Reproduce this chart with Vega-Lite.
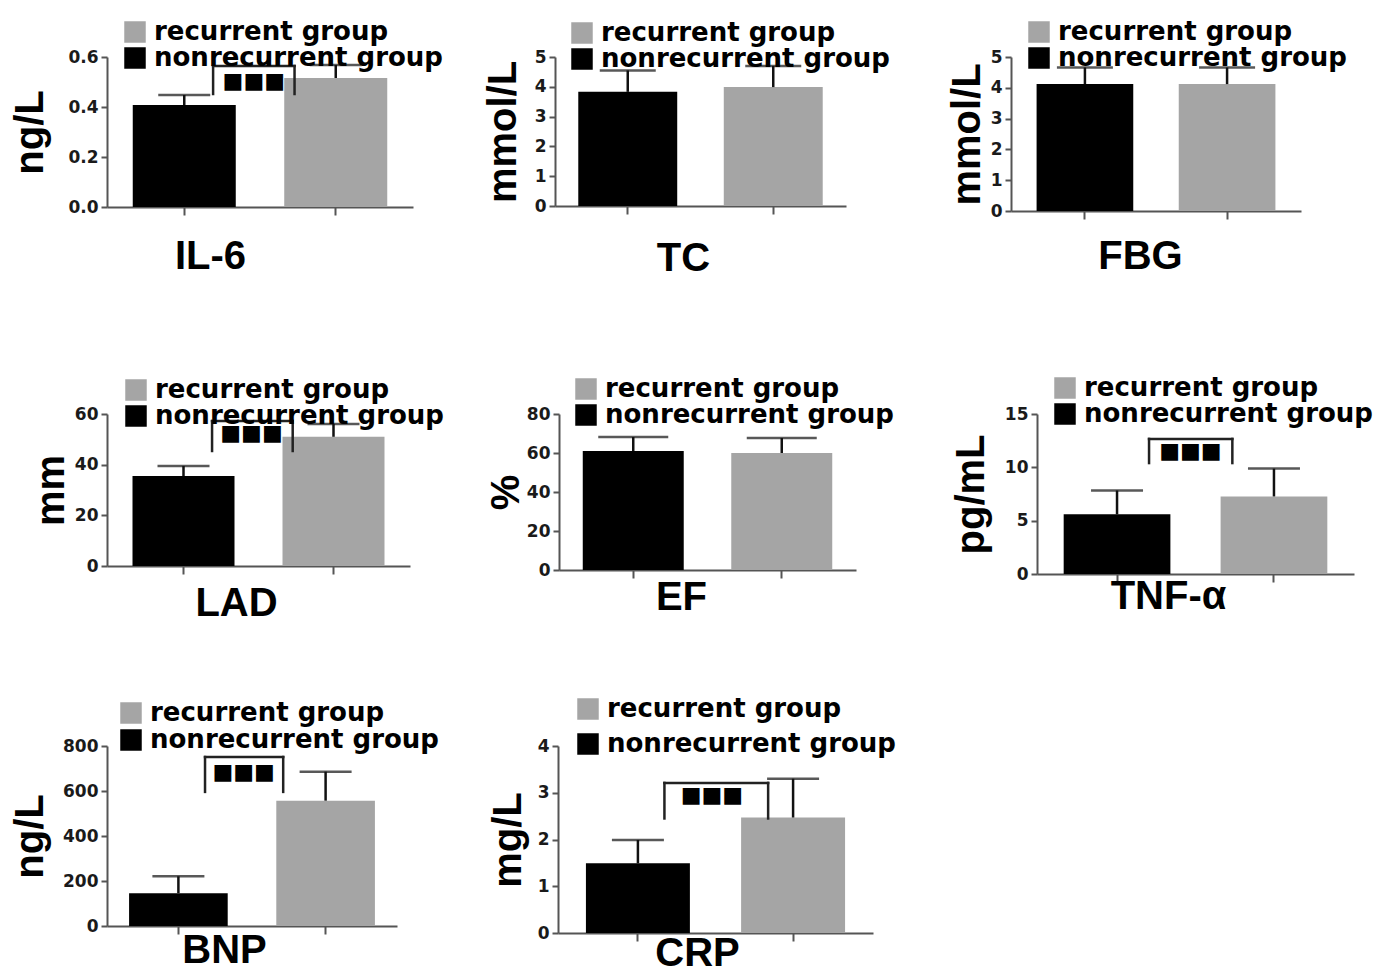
{
  "$schema": "https://vega.github.io/schema/vega-lite/v6.json",
  "padding": {"left": 10, "top": 19, "right": 5, "bottom": 2},
  "datasets": {
    "bars": [
      {"metric": "IL-6", "group": "nonrecurrent group", "mean": 0.408, "upper": 0.448},
      {"metric": "IL-6", "group": "recurrent group", "mean": 0.516, "upper": 0.568},
      {"metric": "TC", "group": "nonrecurrent group", "mean": 3.83, "upper": 4.55},
      {"metric": "TC", "group": "recurrent group", "mean": 3.99, "upper": 4.7},
      {"metric": "FBG", "group": "nonrecurrent group", "mean": 4.12, "upper": 4.66},
      {"metric": "FBG", "group": "recurrent group", "mean": 4.12, "upper": 4.66},
      {"metric": "LAD", "group": "nonrecurrent group", "mean": 35.5, "upper": 39.5},
      {"metric": "LAD", "group": "recurrent group", "mean": 51.0, "upper": 56.1},
      {"metric": "EF", "group": "nonrecurrent group", "mean": 61.0, "upper": 68.2},
      {"metric": "EF", "group": "recurrent group", "mean": 60.0, "upper": 67.7},
      {"metric": "TNF-α", "group": "nonrecurrent group", "mean": 5.59, "upper": 7.83},
      {"metric": "TNF-α", "group": "recurrent group", "mean": 7.27, "upper": 9.88},
      {"metric": "BNP", "group": "nonrecurrent group", "mean": 146, "upper": 221},
      {"metric": "BNP", "group": "recurrent group", "mean": 557, "upper": 686},
      {"metric": "CRP", "group": "nonrecurrent group", "mean": 1.49, "upper": 1.99},
      {"metric": "CRP", "group": "recurrent group", "mean": 2.47, "upper": 3.3}
    ],
    "sig": [
      {"metric": "IL-6", "g1": "nonrecurrent group", "g2": "recurrent group", "top": 0.564, "leg": 0.452, "star": 0.504, "label": "■■■"},
      {"metric": "LAD", "g1": "nonrecurrent group", "g2": "recurrent group", "top": 57.2, "leg": 45.4, "star": 52.5, "label": "■■■"},
      {"metric": "TNF-α", "g1": "nonrecurrent group", "g2": "recurrent group", "top": 12.66, "leg": 10.4, "star": 11.5, "label": "■■■"},
      {"metric": "BNP", "g1": "nonrecurrent group", "g2": "recurrent group", "top": 751, "leg": 596, "star": 684, "label": "■■■"},
      {"metric": "CRP", "g1": "nonrecurrent group", "g2": "recurrent group", "top": 3.21, "leg": 2.45, "star": 2.96, "label": "■■■"}
    ]
  },
  "config": {
    "view": {"stroke": null},
    "font": "Liberation Sans",
    "axis": {"grid": false, "domainColor": "#555555", "domainWidth": 2, "tickColor": "#555555", "tickWidth": 2, "labelFont": "DejaVu Sans", "labelFontWeight": "bold", "labelFontSize": 17, "labelColor": "#1a1a1a", "labelOverlap": false, "titleFont": "Liberation Sans", "titleFontWeight": "bold", "titleFontSize": 40, "titleColor": "#000000"},
    "axisY": {"tickSize": 6, "labelPadding": 3, "titleBaseline": "alphabetic", "labelOverlap": false},
    "axisX": {"tickSize": 8, "labels": false, "titleBaseline": "alphabetic", "titleAlign": "center"},
    "legend": {"labelFont": "DejaVu Sans", "labelFontWeight": "bold", "labelFontSize": 26, "labelColor": "#000000", "symbolType": "square", "symbolSize": 462, "symbolStrokeWidth": 0, "labelOffset": 6, "rowPadding": -2, "padding": 0, "labelLimit": 600}
  },
  "resolve": {"scale": {"color": "independent"}, "legend": {"color": "independent"}},
  "spacing": 97,
  "vconcat": [
    {
      "spacing": 40,
      "resolve": {"scale": {"color": "independent"}, "legend": {"color": "independent"}},
      "hconcat": [
        {
          "width": 306, "height": 150,
          "data": {"name": "bars"},
          "layer": [
            {"transform": [{"filter": "datum.metric === 'IL-6'"}], "mark": {"type": "bar"},
             "encoding": {
               "x": {"field": "group", "type": "nominal", "title": "IL-6", "scale": {"domain": ["nonrecurrent group", "recurrent group"], "paddingInner": 0.32, "paddingOuter": 0.17}, "axis": {"titleX": 103, "titleY": 61}},
               "y": {"field": "mean", "type": "quantitative", "title": "ng/L", "scale": {"domain": [0, 0.6], "nice": false}, "axis": {"values": [0, 0.2, 0.4, 0.6], "tickCount": 20, "format": ".1f", "titleX": -65, "labelOverlap": false}},
               "color": {"field": "group", "type": "nominal", "scale": {"domain": ["recurrent group", "nonrecurrent group"], "range": ["#a5a5a5", "#000000"]}, "legend": {"title": null, "orient": "none", "legendX": 15, "legendY": -38, "rowPadding": -3}}
             }},
            {"transform": [{"filter": "datum.metric === 'IL-6'"}], "mark": {"type": "rule", "color": "#111111", "strokeWidth": 2.5},
             "encoding": {"x": {"field": "group", "type": "nominal", "title": "IL-6"}, "y": {"field": "mean", "type": "quantitative", "title": "ng/L"}, "y2": {"field": "upper"}}},
            {"transform": [{"filter": "datum.metric === 'IL-6'"}], "mark": {"type": "tick", "color": "#111111", "size": 52, "thickness": 2.5},
             "encoding": {"x": {"field": "group", "type": "nominal", "title": "IL-6"}, "y": {"field": "upper", "type": "quantitative", "title": "ng/L"}}},
            {"data": {"name": "sig"}, "transform": [{"filter": "datum.metric === 'IL-6'"}], "mark": {"type": "rule", "color": "#222222", "strokeWidth": 2.5, "strokeCap": "square"},
             "encoding": {"x": {"field": "g1", "type": "nominal", "bandPosition": 0.78, "title": "IL-6"}, "x2": {"field": "g2", "bandPosition": 0.1}, "y": {"field": "top", "type": "quantitative", "title": "ng/L"}}},
            {"data": {"name": "sig"}, "transform": [{"filter": "datum.metric === 'IL-6'"}], "mark": {"type": "rule", "color": "#222222", "strokeWidth": 2.5, "strokeCap": "square"},
             "encoding": {"x": {"field": "g1", "type": "nominal", "bandPosition": 0.78, "title": "IL-6"}, "y": {"field": "top", "type": "quantitative", "title": "ng/L"}, "y2": {"field": "leg"}}},
            {"data": {"name": "sig"}, "transform": [{"filter": "datum.metric === 'IL-6'"}], "mark": {"type": "rule", "color": "#222222", "strokeWidth": 2.5, "strokeCap": "square"},
             "encoding": {"x": {"field": "g2", "type": "nominal", "bandPosition": 0.1, "title": "IL-6"}, "y": {"field": "top", "type": "quantitative", "title": "ng/L"}, "y2": {"field": "leg"}}},
            {"data": {"name": "sig"}, "transform": [{"filter": "datum.metric === 'IL-6'"}], "mark": {"type": "text", "font": "DejaVu Sans", "fontSize": 22, "dx": 18, "baseline": "middle", "align": "center", "color": "#000000"},
             "encoding": {"x": {"field": "g1", "type": "nominal", "bandPosition": 1, "title": "IL-6"}, "y": {"field": "star", "type": "quantitative", "title": "ng/L"}, "text": {"field": "label"}}}
          ]
        },
        {
          "spacing": 57,
          "resolve": {"scale": {"color": "independent"}, "legend": {"color": "independent"}},
          "hconcat": [
            {
              "width": 291, "height": 149,
              "data": {"name": "bars"},
              "layer": [
                {"transform": [{"filter": "datum.metric === 'TC'"}], "mark": {"type": "bar"},
                 "encoding": {
                   "x": {"field": "group", "type": "nominal", "title": "TC", "scale": {"domain": ["nonrecurrent group", "recurrent group"], "paddingInner": 0.32, "paddingOuter": 0.16}, "axis": {"titleX": 128, "titleY": 64}},
                   "y": {"field": "mean", "type": "quantitative", "title": "mmol/L", "scale": {"domain": [0, 5], "nice": false}, "axis": {"values": [0, 1, 2, 3, 4, 5], "tickCount": 20, "format": "d", "titleX": -40, "labelOverlap": false}},
                   "color": {"field": "group", "type": "nominal", "scale": {"domain": ["recurrent group", "nonrecurrent group"], "range": ["#a5a5a5", "#000000"]}, "legend": {"title": null, "orient": "none", "legendX": 14, "legendY": -37, "rowPadding": -3}}
                 }},
                {"transform": [{"filter": "datum.metric === 'TC'"}], "mark": {"type": "rule", "color": "#111111", "strokeWidth": 2.5},
                 "encoding": {"x": {"field": "group", "type": "nominal", "title": "TC"}, "y": {"field": "mean", "type": "quantitative", "title": "mmol/L"}, "y2": {"field": "upper"}}},
                {"transform": [{"filter": "datum.metric === 'TC'"}], "mark": {"type": "tick", "color": "#111111", "size": 56, "thickness": 2.5},
                 "encoding": {"x": {"field": "group", "type": "nominal", "title": "TC"}, "y": {"field": "upper", "type": "quantitative", "title": "mmol/L"}}}
              ]
            },
            {
              "width": 290, "height": 154,
              "data": {"name": "bars"},
              "layer": [
                {"transform": [{"filter": "datum.metric === 'FBG'"}], "mark": {"type": "bar"},
                 "encoding": {
                   "x": {"field": "group", "type": "nominal", "title": "FBG", "scale": {"domain": ["nonrecurrent group", "recurrent group"], "paddingInner": 0.32, "paddingOuter": 0.18}, "axis": {"titleX": 129, "titleY": 57}},
                   "y": {"field": "mean", "type": "quantitative", "title": "mmol/L", "scale": {"domain": [0, 5], "nice": false}, "axis": {"values": [0, 1, 2, 3, 4, 5], "tickCount": 20, "format": "d", "titleX": -32, "labelOverlap": false}},
                   "color": {"field": "group", "type": "nominal", "scale": {"domain": ["recurrent group", "nonrecurrent group"], "range": ["#a5a5a5", "#000000"]}, "legend": {"title": null, "orient": "none", "legendX": 15, "legendY": -38, "rowPadding": -3}}
                 }},
                {"transform": [{"filter": "datum.metric === 'FBG'"}], "mark": {"type": "rule", "color": "#111111", "strokeWidth": 2.5},
                 "encoding": {"x": {"field": "group", "type": "nominal", "title": "FBG"}, "y": {"field": "mean", "type": "quantitative", "title": "mmol/L"}, "y2": {"field": "upper"}}},
                {"transform": [{"filter": "datum.metric === 'FBG'"}], "mark": {"type": "tick", "color": "#111111", "size": 56, "thickness": 2.5},
                 "encoding": {"x": {"field": "group", "type": "nominal", "title": "FBG"}, "y": {"field": "upper", "type": "quantitative", "title": "mmol/L"}}}
              ]
            }
          ]
        }
      ]
    },
    {
      "spacing": 73,
      "resolve": {"scale": {"color": "independent"}, "legend": {"color": "independent"}},
      "vconcat": [
        {
          "spacing": 42,
          "resolve": {"scale": {"color": "independent"}, "legend": {"color": "independent"}},
          "hconcat": [
            {
              "width": 303, "height": 152,
              "data": {"name": "bars"},
              "layer": [
                {"transform": [{"filter": "datum.metric === 'LAD'"}], "mark": {"type": "bar"},
                 "encoding": {
                   "x": {"field": "group", "type": "nominal", "title": "LAD", "scale": {"domain": ["nonrecurrent group", "recurrent group"], "paddingInner": 0.32, "paddingOuter": 0.17}, "axis": {"titleX": 129, "titleY": 49}},
                   "y": {"field": "mean", "type": "quantitative", "title": "mm", "scale": {"domain": [0, 60], "nice": false}, "axis": {"values": [0, 20, 40, 60], "tickCount": 20, "format": "d", "titleX": -44, "labelOverlap": false}},
                   "color": {"field": "group", "type": "nominal", "scale": {"domain": ["recurrent group", "nonrecurrent group"], "range": ["#a5a5a5", "#000000"]}, "legend": {"title": null, "orient": "none", "legendX": 16, "legendY": -37, "rowPadding": -2}}
                 }},
                {"transform": [{"filter": "datum.metric === 'LAD'"}], "mark": {"type": "rule", "color": "#111111", "strokeWidth": 2.5},
                 "encoding": {"x": {"field": "group", "type": "nominal", "title": "LAD"}, "y": {"field": "mean", "type": "quantitative", "title": "mm"}, "y2": {"field": "upper"}}},
                {"transform": [{"filter": "datum.metric === 'LAD'"}], "mark": {"type": "tick", "color": "#111111", "size": 52, "thickness": 2.5},
                 "encoding": {"x": {"field": "group", "type": "nominal", "title": "LAD"}, "y": {"field": "upper", "type": "quantitative", "title": "mm"}}},
                {"data": {"name": "sig"}, "transform": [{"filter": "datum.metric === 'LAD'"}], "mark": {"type": "rule", "color": "#222222", "strokeWidth": 2.5, "strokeCap": "square"},
                 "encoding": {"x": {"field": "g1", "type": "nominal", "bandPosition": 0.78, "title": "LAD"}, "x2": {"field": "g2", "bandPosition": 0.1}, "y": {"field": "top", "type": "quantitative", "title": "mm"}}},
                {"data": {"name": "sig"}, "transform": [{"filter": "datum.metric === 'LAD'"}], "mark": {"type": "rule", "color": "#222222", "strokeWidth": 2.5, "strokeCap": "square"},
                 "encoding": {"x": {"field": "g1", "type": "nominal", "bandPosition": 0.78, "title": "LAD"}, "y": {"field": "top", "type": "quantitative", "title": "mm"}, "y2": {"field": "leg"}}},
                {"data": {"name": "sig"}, "transform": [{"filter": "datum.metric === 'LAD'"}], "mark": {"type": "rule", "color": "#222222", "strokeWidth": 2.5, "strokeCap": "square"},
                 "encoding": {"x": {"field": "g2", "type": "nominal", "bandPosition": 0.1, "title": "LAD"}, "y": {"field": "top", "type": "quantitative", "title": "mm"}, "y2": {"field": "leg"}}},
                {"data": {"name": "sig"}, "transform": [{"filter": "datum.metric === 'LAD'"}], "mark": {"type": "text", "font": "DejaVu Sans", "fontSize": 22, "dx": 17, "baseline": "middle", "align": "center", "color": "#000000"},
                 "encoding": {"x": {"field": "g1", "type": "nominal", "bandPosition": 1, "title": "LAD"}, "y": {"field": "star", "type": "quantitative", "title": "mm"}, "text": {"field": "label"}}}
              ]
            },
            {
              "spacing": 57,
              "resolve": {"scale": {"color": "independent"}, "legend": {"color": "independent"}},
              "hconcat": [
                {
                  "width": 297, "height": 156,
                  "data": {"name": "bars"},
                  "layer": [
                    {"transform": [{"filter": "datum.metric === 'EF'"}], "mark": {"type": "bar"},
                     "encoding": {
                       "x": {"field": "group", "type": "nominal", "title": "EF", "scale": {"domain": ["nonrecurrent group", "recurrent group"], "paddingInner": 0.32, "paddingOuter": 0.16}, "axis": {"titleX": 122, "titleY": 39}},
                       "y": {"field": "mean", "type": "quantitative", "title": "%", "scale": {"domain": [0, 80], "nice": false}, "axis": {"values": [0, 20, 40, 60, 80], "tickCount": 20, "format": "d", "titleX": -41, "labelOverlap": false}},
                       "color": {"field": "group", "type": "nominal", "scale": {"domain": ["recurrent group", "nonrecurrent group"], "range": ["#a5a5a5", "#000000"]}, "legend": {"title": null, "orient": "none", "legendX": 14, "legendY": -38, "rowPadding": -2}}
                     }},
                    {"transform": [{"filter": "datum.metric === 'EF'"}], "mark": {"type": "rule", "color": "#111111", "strokeWidth": 2.5},
                     "encoding": {"x": {"field": "group", "type": "nominal", "title": "EF"}, "y": {"field": "mean", "type": "quantitative", "title": "%"}, "y2": {"field": "upper"}}},
                    {"transform": [{"filter": "datum.metric === 'EF'"}], "mark": {"type": "tick", "color": "#111111", "size": 70, "thickness": 2.5},
                     "encoding": {"x": {"field": "group", "type": "nominal", "title": "EF"}, "y": {"field": "upper", "type": "quantitative", "title": "%"}}}
                  ]
                },
                {
                  "width": 317, "height": 160,
                  "data": {"name": "bars"},
                  "layer": [
                    {"transform": [{"filter": "datum.metric === 'TNF-α'"}], "mark": {"type": "bar"},
                     "encoding": {
                       "x": {"field": "group", "type": "nominal", "title": "TNF-α", "scale": {"domain": ["nonrecurrent group", "recurrent group"], "paddingInner": 0.32, "paddingOuter": 0.17}, "axis": {"titleX": 131, "titleY": 34}},
                       "y": {"field": "mean", "type": "quantitative", "title": "pg/mL", "scale": {"domain": [0, 15], "nice": false}, "axis": {"values": [0, 5, 10, 15], "tickCount": 20, "format": "d", "titleX": -54, "labelOverlap": false}},
                       "color": {"field": "group", "type": "nominal", "scale": {"domain": ["recurrent group", "nonrecurrent group"], "range": ["#a5a5a5", "#000000"]}, "legend": {"title": null, "orient": "none", "legendX": 15, "legendY": -39, "rowPadding": 0}}
                     }},
                    {"transform": [{"filter": "datum.metric === 'TNF-α'"}], "mark": {"type": "rule", "color": "#111111", "strokeWidth": 2.5},
                     "encoding": {"x": {"field": "group", "type": "nominal", "title": "TNF-α"}, "y": {"field": "mean", "type": "quantitative", "title": "pg/mL"}, "y2": {"field": "upper"}}},
                    {"transform": [{"filter": "datum.metric === 'TNF-α'"}], "mark": {"type": "tick", "color": "#111111", "size": 52, "thickness": 2.5},
                     "encoding": {"x": {"field": "group", "type": "nominal", "title": "TNF-α"}, "y": {"field": "upper", "type": "quantitative", "title": "pg/mL"}}},
                    {"data": {"name": "sig"}, "transform": [{"filter": "datum.metric === 'TNF-α'"}], "mark": {"type": "rule", "color": "#222222", "strokeWidth": 2.5, "strokeCap": "square"},
                     "encoding": {"x": {"field": "g1", "type": "nominal", "bandPosition": 0.8, "title": "TNF-α"}, "x2": {"field": "g2", "bandPosition": 0.11}, "y": {"field": "top", "type": "quantitative", "title": "pg/mL"}}},
                    {"data": {"name": "sig"}, "transform": [{"filter": "datum.metric === 'TNF-α'"}], "mark": {"type": "rule", "color": "#222222", "strokeWidth": 2.5, "strokeCap": "square"},
                     "encoding": {"x": {"field": "g1", "type": "nominal", "bandPosition": 0.8, "title": "TNF-α"}, "y": {"field": "top", "type": "quantitative", "title": "pg/mL"}, "y2": {"field": "leg"}}},
                    {"data": {"name": "sig"}, "transform": [{"filter": "datum.metric === 'TNF-α'"}], "mark": {"type": "rule", "color": "#222222", "strokeWidth": 2.5, "strokeCap": "square"},
                     "encoding": {"x": {"field": "g2", "type": "nominal", "bandPosition": 0.11, "title": "TNF-α"}, "y": {"field": "top", "type": "quantitative", "title": "pg/mL"}, "y2": {"field": "leg"}}},
                    {"data": {"name": "sig"}, "transform": [{"filter": "datum.metric === 'TNF-α'"}], "mark": {"type": "text", "font": "DejaVu Sans", "fontSize": 22, "dx": 20, "baseline": "middle", "align": "center", "color": "#000000"},
                     "encoding": {"x": {"field": "g1", "type": "nominal", "bandPosition": 1, "title": "TNF-α"}, "y": {"field": "star", "type": "quantitative", "title": "pg/mL"}, "text": {"field": "label"}}}
                  ]
                }
              ]
            }
          ]
        },
        {
          "spacing": 49,
          "resolve": {"scale": {"color": "independent"}, "legend": {"color": "independent"}},
          "hconcat": [
            {
              "width": 290, "height": 180,
              "data": {"name": "bars"},
              "layer": [
                {"transform": [{"filter": "datum.metric === 'BNP'"}], "mark": {"type": "bar"},
                 "encoding": {
                   "x": {"field": "group", "type": "nominal", "title": "BNP", "scale": {"domain": ["nonrecurrent group", "recurrent group"], "paddingInner": 0.33, "paddingOuter": 0.15}, "axis": {"titleX": 117, "titleY": 36}},
                   "y": {"field": "mean", "type": "quantitative", "title": "ng/L", "scale": {"domain": [0, 800], "nice": false}, "axis": {"values": [0, 200, 400, 600, 800], "tickCount": 20, "format": "d", "titleX": -65, "labelOverlap": false}},
                   "color": {"field": "group", "type": "nominal", "scale": {"domain": ["recurrent group", "nonrecurrent group"], "range": ["#a5a5a5", "#000000"]}, "legend": {"title": null, "orient": "none", "legendX": 11, "legendY": -46, "rowPadding": 1}}
                 }},
                {"transform": [{"filter": "datum.metric === 'BNP'"}], "mark": {"type": "rule", "color": "#111111", "strokeWidth": 2.5},
                 "encoding": {"x": {"field": "group", "type": "nominal", "title": "BNP"}, "y": {"field": "mean", "type": "quantitative", "title": "ng/L"}, "y2": {"field": "upper"}}},
                {"transform": [{"filter": "datum.metric === 'BNP'"}], "mark": {"type": "tick", "color": "#111111", "size": 52, "thickness": 2.5},
                 "encoding": {"x": {"field": "group", "type": "nominal", "title": "BNP"}, "y": {"field": "upper", "type": "quantitative", "title": "ng/L"}}},
                {"data": {"name": "sig"}, "transform": [{"filter": "datum.metric === 'BNP'"}], "mark": {"type": "rule", "color": "#222222", "strokeWidth": 2.5, "strokeCap": "square"},
                 "encoding": {"x": {"field": "g1", "type": "nominal", "bandPosition": 0.77, "title": "BNP"}, "x2": {"field": "g2", "bandPosition": 0.07}, "y": {"field": "top", "type": "quantitative", "title": "ng/L"}}},
                {"data": {"name": "sig"}, "transform": [{"filter": "datum.metric === 'BNP'"}], "mark": {"type": "rule", "color": "#222222", "strokeWidth": 2.5, "strokeCap": "square"},
                 "encoding": {"x": {"field": "g1", "type": "nominal", "bandPosition": 0.77, "title": "BNP"}, "y": {"field": "top", "type": "quantitative", "title": "ng/L"}, "y2": {"field": "leg"}}},
                {"data": {"name": "sig"}, "transform": [{"filter": "datum.metric === 'BNP'"}], "mark": {"type": "rule", "color": "#222222", "strokeWidth": 2.5, "strokeCap": "square"},
                 "encoding": {"x": {"field": "g2", "type": "nominal", "bandPosition": 0.07, "title": "BNP"}, "y": {"field": "top", "type": "quantitative", "title": "ng/L"}, "y2": {"field": "leg"}}},
                {"data": {"name": "sig"}, "transform": [{"filter": "datum.metric === 'BNP'"}], "mark": {"type": "text", "font": "DejaVu Sans", "fontSize": 22, "dx": 16, "baseline": "middle", "align": "center", "color": "#000000"},
                 "encoding": {"x": {"field": "g1", "type": "nominal", "bandPosition": 1, "title": "BNP"}, "y": {"field": "star", "type": "quantitative", "title": "ng/L"}, "text": {"field": "label"}}}
              ]
            },
            {
              "width": 315, "height": 187,
              "data": {"name": "bars"},
              "layer": [
                {"transform": [{"filter": "datum.metric === 'CRP'"}], "mark": {"type": "bar"},
                 "encoding": {
                   "x": {"field": "group", "type": "nominal", "title": "CRP", "scale": {"domain": ["nonrecurrent group", "recurrent group"], "paddingInner": 0.33, "paddingOuter": 0.18}, "axis": {"titleX": 139, "titleY": 32}},
                   "y": {"field": "mean", "type": "quantitative", "title": "mg/L", "scale": {"domain": [0, 4], "nice": false}, "axis": {"values": [0, 1, 2, 3, 4], "tickCount": 20, "format": "d", "titleX": -38, "labelOverlap": false}},
                   "color": {"field": "group", "type": "nominal", "scale": {"domain": ["recurrent group", "nonrecurrent group"], "range": ["#a5a5a5", "#000000"]}, "legend": {"title": null, "orient": "none", "legendX": 17, "legendY": -50, "rowPadding": 9}}
                 }},
                {"transform": [{"filter": "datum.metric === 'CRP'"}], "mark": {"type": "rule", "color": "#111111", "strokeWidth": 2.5},
                 "encoding": {"x": {"field": "group", "type": "nominal", "title": "CRP"}, "y": {"field": "mean", "type": "quantitative", "title": "mg/L"}, "y2": {"field": "upper"}}},
                {"transform": [{"filter": "datum.metric === 'CRP'"}], "mark": {"type": "tick", "color": "#111111", "size": 52, "thickness": 2.5},
                 "encoding": {"x": {"field": "group", "type": "nominal", "title": "CRP"}, "y": {"field": "upper", "type": "quantitative", "title": "mg/L"}}},
                {"data": {"name": "sig"}, "transform": [{"filter": "datum.metric === 'CRP'"}], "mark": {"type": "rule", "color": "#222222", "strokeWidth": 2.5, "strokeCap": "square"},
                 "encoding": {"x": {"field": "g1", "type": "nominal", "bandPosition": 0.755, "title": "CRP"}, "x2": {"field": "g2", "bandPosition": 0.26}, "y": {"field": "top", "type": "quantitative", "title": "mg/L"}}},
                {"data": {"name": "sig"}, "transform": [{"filter": "datum.metric === 'CRP'"}], "mark": {"type": "rule", "color": "#222222", "strokeWidth": 2.5, "strokeCap": "square"},
                 "encoding": {"x": {"field": "g1", "type": "nominal", "bandPosition": 0.755, "title": "CRP"}, "y": {"field": "top", "type": "quantitative", "title": "mg/L"}, "y2": {"field": "leg"}}},
                {"data": {"name": "sig"}, "transform": [{"filter": "datum.metric === 'CRP'"}], "mark": {"type": "rule", "color": "#222222", "strokeWidth": 2.5, "strokeCap": "square"},
                 "encoding": {"x": {"field": "g2", "type": "nominal", "bandPosition": 0.26, "title": "CRP"}, "y": {"field": "top", "type": "quantitative", "title": "mg/L"}, "y2": {"field": "leg"}}},
                {"data": {"name": "sig"}, "transform": [{"filter": "datum.metric === 'CRP'"}], "mark": {"type": "text", "font": "DejaVu Sans", "fontSize": 22, "dx": 22, "baseline": "middle", "align": "center", "color": "#000000"},
                 "encoding": {"x": {"field": "g1", "type": "nominal", "bandPosition": 1, "title": "CRP"}, "y": {"field": "star", "type": "quantitative", "title": "mg/L"}, "text": {"field": "label"}}}
              ]
            }
          ]
        }
      ]
    }
  ]
}
